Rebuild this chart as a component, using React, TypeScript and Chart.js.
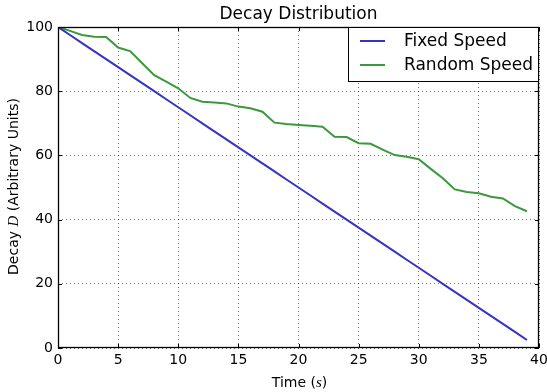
import React, { useEffect, useRef } from "react";
import { Chart, registerables } from "chart.js";

Chart.register(...registerables);

const times = [0, 1, 2, 3, 4, 5, 6, 7, 8, 9, 10, 11, 12, 13, 14, 15, 16, 17, 18, 19, 20, 21, 22, 23, 24, 25, 26, 27, 28, 29, 30, 31, 32, 33, 34, 35, 36, 37, 38, 39];
const fixedSpeed = [100, 97.5, 95, 92.5, 90, 87.5, 85, 82.5, 80, 77.5, 75, 72.5, 70, 67.5, 65, 62.5, 60, 57.5, 55, 52.5, 50, 47.5, 45, 42.5, 40, 37.5, 35, 32.5, 30, 27.5, 25, 22.5, 20, 17.5, 15, 12.5, 10, 7.5, 5, 2.5];
const randomSpeed = [100, 98.8, 97.5, 97.0, 96.9, 93.6, 92.5, 88.7, 85.0, 83.0, 80.9, 77.9, 76.7, 76.5, 76.2, 75.2, 74.7, 73.6, 70.2, 69.8, 69.5, 69.2, 68.9, 65.8, 65.7, 63.8, 63.6, 61.8, 60.1, 59.6, 58.8, 55.8, 52.9, 49.4, 48.6, 48.2, 47.1, 46.6, 44.2, 42.6];
const seriesNames = ["Fixed Speed", "Random Speed"];
const seriesColors = ["#3434c0", "#3c983c"];
const xTickStep = 5;
const yTickStep = 20;
const titleText = "Decay Distribution";

const SANS = '"DejaVu Sans", sans-serif';
const SERIF_IT = 'italic 15px "Liberation Serif", "DejaVu Serif", serif';

const decorPlugin = {
  id: "decor",
  afterDraw(chart: any) {
    const { ctx, chartArea: a, scales } = chart;
    const xs = scales.x;
    const ys = scales.y;
    ctx.save();
    // inward ticks
    ctx.strokeStyle = "#000";
    ctx.lineWidth = 1;
    ctx.beginPath();
    xs.ticks.forEach((t: any) => {
      const px = Math.round(xs.getPixelForValue(t.value)) + 0.5;
      ctx.moveTo(px, a.bottom);
      ctx.lineTo(px, a.bottom - 4);
      ctx.moveTo(px, a.top);
      ctx.lineTo(px, a.top + 4);
    });
    ys.ticks.forEach((t: any) => {
      const py = Math.round(ys.getPixelForValue(t.value)) + 0.5;
      ctx.moveTo(a.left, py);
      ctx.lineTo(a.left + 4, py);
      ctx.moveTo(a.right, py);
      ctx.lineTo(a.right - 4, py);
    });
    ctx.stroke();
    // frame
    ctx.lineWidth = 1.3;
    ctx.strokeRect(a.left + 0.5, a.top + 0.5, a.right - a.left - 1, a.bottom - a.top - 1);

    // legend
    const lx = 348.5, ly = 27.5, lw = a.right - 0.5 - lx, lh = 54;
    ctx.fillStyle = "#fff";
    ctx.fillRect(lx, ly, lw, lh);
    ctx.lineWidth = 1;
    ctx.strokeRect(lx, ly, lw, lh);
    ctx.font = `17px ${SANS}`;
    ctx.textBaseline = "middle";
    ctx.textAlign = "left";
    const rows = [41, 65];
    seriesNames.forEach((name, i) => {
      ctx.strokeStyle = seriesColors[i];
      ctx.lineWidth = 2;
      ctx.beginPath();
      ctx.moveTo(360, rows[i]);
      ctx.lineTo(385, rows[i]);
      ctx.stroke();
      ctx.fillStyle = "#000";
      ctx.fillText(name, 404, rows[i] + 1);
    });

    // title
    ctx.fillStyle = "#000";
    ctx.font = `17px ${SANS}`;
    ctx.textAlign = "center";
    ctx.textBaseline = "alphabetic";
    ctx.fillText(titleText, (a.left + a.right) / 2, 19);

    // x axis title: Time (s)
    const cx = (a.left + a.right) / 2 + 1;
    const parts1 = [
      { t: "Time (", f: `14px ${SANS}` },
      { t: "s", f: SERIF_IT },
      { t: ")", f: `14px ${SANS}` },
    ];
    ctx.textAlign = "left";
    let total = 0;
    parts1.forEach((p) => { ctx.font = p.f; total += ctx.measureText(p.t).width; });
    let x0 = cx - total / 2;
    parts1.forEach((p) => { ctx.font = p.f; ctx.fillText(p.t, x0, 387); x0 += ctx.measureText(p.t).width; });

    // y axis title
    const parts2 = [
      { t: "Decay ", f: `14px ${SANS}` },
      { t: "D", f: SERIF_IT },
      { t: " (Arbitrary Units)", f: `14px ${SANS}` },
    ];
    total = 0;
    parts2.forEach((p) => { ctx.font = p.f; total += ctx.measureText(p.t).width; });
    ctx.translate(17.5, (a.top + a.bottom) / 2 - 1);
    ctx.rotate(-Math.PI / 2);
    x0 = -total / 2;
    parts2.forEach((p) => { ctx.font = p.f; ctx.fillText(p.t, x0, 0); x0 += ctx.measureText(p.t).width; });
    ctx.restore();
  },
};

export default function App() {
  const ref = useRef<HTMLCanvasElement>(null);
  useEffect(() => {
    if (!ref.current) return;
    const chart = new Chart(ref.current, {
      type: "line",
      data: {
        datasets: [
          {
            label: seriesNames[0],
            data: times.map((t, i) => ({ x: t, y: fixedSpeed[i] })),
            borderColor: seriesColors[0],
            borderWidth: 2,
            pointRadius: 0,
            fill: false,
            tension: 0,
          },
          {
            label: seriesNames[1],
            data: times.map((t, i) => ({ x: t, y: randomSpeed[i] })),
            borderColor: seriesColors[1],
            borderWidth: 2,
            pointRadius: 0,
            fill: false,
            tension: 0,
          },
        ],
      },
      options: {
        responsive: false,
        animation: false,
        devicePixelRatio: 1,
        layout: { padding: { top: 27, right: 8, left: 0, bottom: 0 } },
        plugins: {
          legend: { display: false },
          title: { display: false },
          tooltip: { enabled: false },
        },
        font: { family: SANS },
        scales: {
          x: {
            type: "linear",
            min: 0,
            max: 40,
            ticks: { stepSize: xTickStep, color: "#000", font: { size: 14, family: SANS }, padding: 4, maxRotation: 0, autoSkip: false },
            grid: { color: "rgba(0,0,0,0.55)", lineWidth: 1, drawTicks: false },
            border: { display: false, dash: [1, 3] },
            afterFit: (s: any) => { s.height = 44; s.paddingLeft = 0; s.paddingRight = 0; },
          },
          y: {
            type: "linear",
            min: 0,
            max: 100,
            ticks: { stepSize: yTickStep, color: "#000", font: { size: 14, family: SANS }, padding: 5, autoSkip: false },
            grid: { color: "rgba(0,0,0,0.55)", lineWidth: 1, drawTicks: false },
            border: { display: false, dash: [1, 3] },
            afterFit: (s: any) => { s.width = 58; s.paddingTop = 0; s.paddingBottom = 0; },
          },
        },
      } as any,
      plugins: [decorPlugin],
    });
    return () => chart.destroy();
  }, []);
  return (
    <div style={{ position: "fixed", left: 0, top: 0, width: 547, height: 392, background: "#fff" }}>
      <canvas ref={ref} width={547} height={392} style={{ display: "block" }} />
    </div>
  );
}
